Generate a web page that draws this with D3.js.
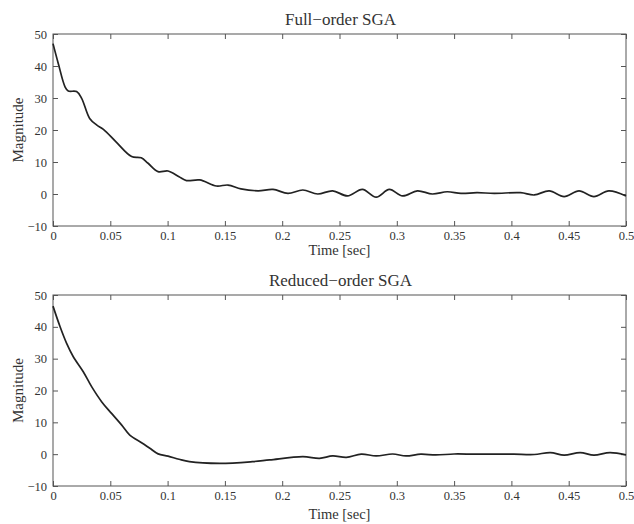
<!DOCTYPE html>
<html>
<head>
<meta charset="utf-8">
<script src="https://cdn.jsdelivr.net/npm/d3@7"></script>
<style>
    body { margin: 0; background: #fff; }
    svg { display: block; }
    text { font-family: "Liberation Serif", "Times New Roman", serif; fill: #333; }
</style>
</head>
<body>
<svg id="chart" width="634" height="524"></svg>
<script>
// Full-order SGA response
const fullTime = [0, 0.0046, 0.0105, 0.0133, 0.0206, 0.025, 0.032, 0.038, 0.044, 0.055,
    0.0686, 0.077, 0.083, 0.0917, 0.1004, 0.11, 0.1165, 0.128, 0.1426, 0.1527,
    0.164, 0.179, 0.192, 0.205, 0.218, 0.231, 0.244, 0.257, 0.27, 0.282,
    0.2935, 0.305, 0.318, 0.331, 0.344, 0.356, 0.37, 0.385, 0.408, 0.42,
    0.433, 0.446, 0.459, 0.472, 0.485, 0.5];
const fullMag = [47, 40.8, 33.5, 32.2, 32.0, 29.9, 23.6, 21.6, 20.2, 16.3,
    11.7, 11.3, 9.6, 7.0, 7.2, 5.4, 4.2, 4.4, 2.5, 2.8,
    1.6, 1.0, 1.45, 0.2, 1.25, 0.0, 1.0, -0.6, 1.45, -1.0,
    1.45, -0.6, 1.0, 0.0, 0.7, 0.2, 0.4, 0.2, 0.4, -0.3,
    1.0, -0.8, 1.0, -0.8, 1.0, -0.6];

// Reduced-order SGA response
const reducedTime = [0, 0.0061, 0.0119, 0.0177, 0.0264, 0.0337, 0.0424, 0.0511, 0.0598, 0.067,
    0.0773, 0.0845, 0.0917, 0.1004, 0.11, 0.119, 0.1455, 0.174, 0.189, 0.218,
    0.2326, 0.244, 0.256, 0.269, 0.282, 0.2964, 0.308, 0.321, 0.334, 0.35,
    0.3676, 0.385, 0.402, 0.42, 0.434, 0.446, 0.46, 0.472, 0.486, 0.5];
const reducedMag = [46.5, 40.1, 34.8, 30.6, 25.9, 21.2, 16.5, 12.8, 9.2, 6.0,
    3.6, 1.85, 0.1, -0.6, -1.6, -2.35, -2.9, -2.35, -1.8, -0.8,
    -1.3, -0.56, -1.0, 0.0, -0.56, 0.05, -0.56, 0.0, -0.25, 0.05,
    0.0, 0.0, 0.0, -0.1, 0.5, -0.3, 0.5, -0.3, 0.5, -0.2];

const xTicks = [0, 0.05, 0.1, 0.15, 0.2, 0.25, 0.3, 0.35, 0.4, 0.45, 0.5];
const yTicks = [-10, 0, 10, 20, 30, 40, 50];

const panels = [
    { title: "Full\u2212order SGA", time: fullTime, mag: fullMag, top: 34, bottom: 226, xlab: 29 },
    { title: "Reduced\u2212order SGA", time: reducedTime, mag: reducedMag, top: 295, bottom: 486, xlab: 33 }
];

const svg = d3.select("#chart");
const left = 53, right = 626;
const tickLen = 5;

panels.forEach(p => {
    const x = d3.scaleLinear().domain([0, 0.5]).range([left, right]);
    const y = d3.scaleLinear().domain([-10, 50]).range([p.bottom, p.top]);
    const g = svg.append("g");

    // ticks pointing inward, on all four sides
    const bottomAxis = g.append("g")
        .attr("transform", `translate(0,${p.bottom})`)
        .call(d3.axisBottom(x).tickValues(xTicks).tickFormat(d3.format("~g"))
            .tickSizeInner(-tickLen).tickSizeOuter(0).tickPadding(5));
    const leftAxis = g.append("g")
        .attr("transform", `translate(${left},0)`)
        .call(d3.axisLeft(y).tickValues(yTicks).tickFormat(d3.format("d"))
            .tickSizeInner(-tickLen).tickSizeOuter(0).tickPadding(6));
    const topAxis = g.append("g")
        .attr("transform", `translate(0,${p.top})`)
        .call(d3.axisTop(x).tickValues(xTicks).tickFormat("")
            .tickSizeInner(-tickLen).tickSizeOuter(0));
    const rightAxis = g.append("g")
        .attr("transform", `translate(${right},0)`)
        .call(d3.axisRight(y).tickValues(yTicks).tickFormat("")
            .tickSizeInner(-tickLen).tickSizeOuter(0));

    [bottomAxis, leftAxis, topAxis, rightAxis].forEach(a => {
        a.select(".domain").remove();
        a.selectAll("line").attr("stroke", "#555");
        a.selectAll("text")
            .style("font-family", '"Liberation Serif", serif')
            .style("font-size", "12.5px")
            .attr("fill", "#333");
    });

    // frame
    g.append("rect")
        .attr("x", left).attr("y", p.top)
        .attr("width", right - left).attr("height", p.bottom - p.top)
        .attr("fill", "none").attr("stroke", "#555").attr("stroke-width", 1);

    // response curve
    const pts = p.time.map((t, i) => [t, p.mag[i]]);
    const line = d3.line()
        .x(d => x(d[0]))
        .y(d => y(d[1]))
        .curve(d3.curveCatmullRom.alpha(0.5));
    g.append("path")
        .datum(pts)
        .attr("d", line)
        .attr("fill", "none")
        .attr("stroke", "#222")
        .attr("stroke-width", 1.7);

    // title
    g.append("text")
        .attr("x", (left + right) / 2 + 1)
        .attr("y", p.top - 9)
        .attr("text-anchor", "middle")
        .style("font-size", "17px")
        .text(p.title);

    // axis labels
    g.append("text")
        .attr("x", (left + right) / 2)
        .attr("y", p.bottom + p.xlab)
        .attr("text-anchor", "middle")
        .style("font-size", "14.5px")
        .text("Time [sec]");

    g.append("text")
        .attr("transform", `translate(23,${(p.top + p.bottom) / 2}) rotate(-90)`)
        .attr("text-anchor", "middle")
        .style("font-size", "15px")
        .text("Magnitude");
});
</script>
</body>
</html>
